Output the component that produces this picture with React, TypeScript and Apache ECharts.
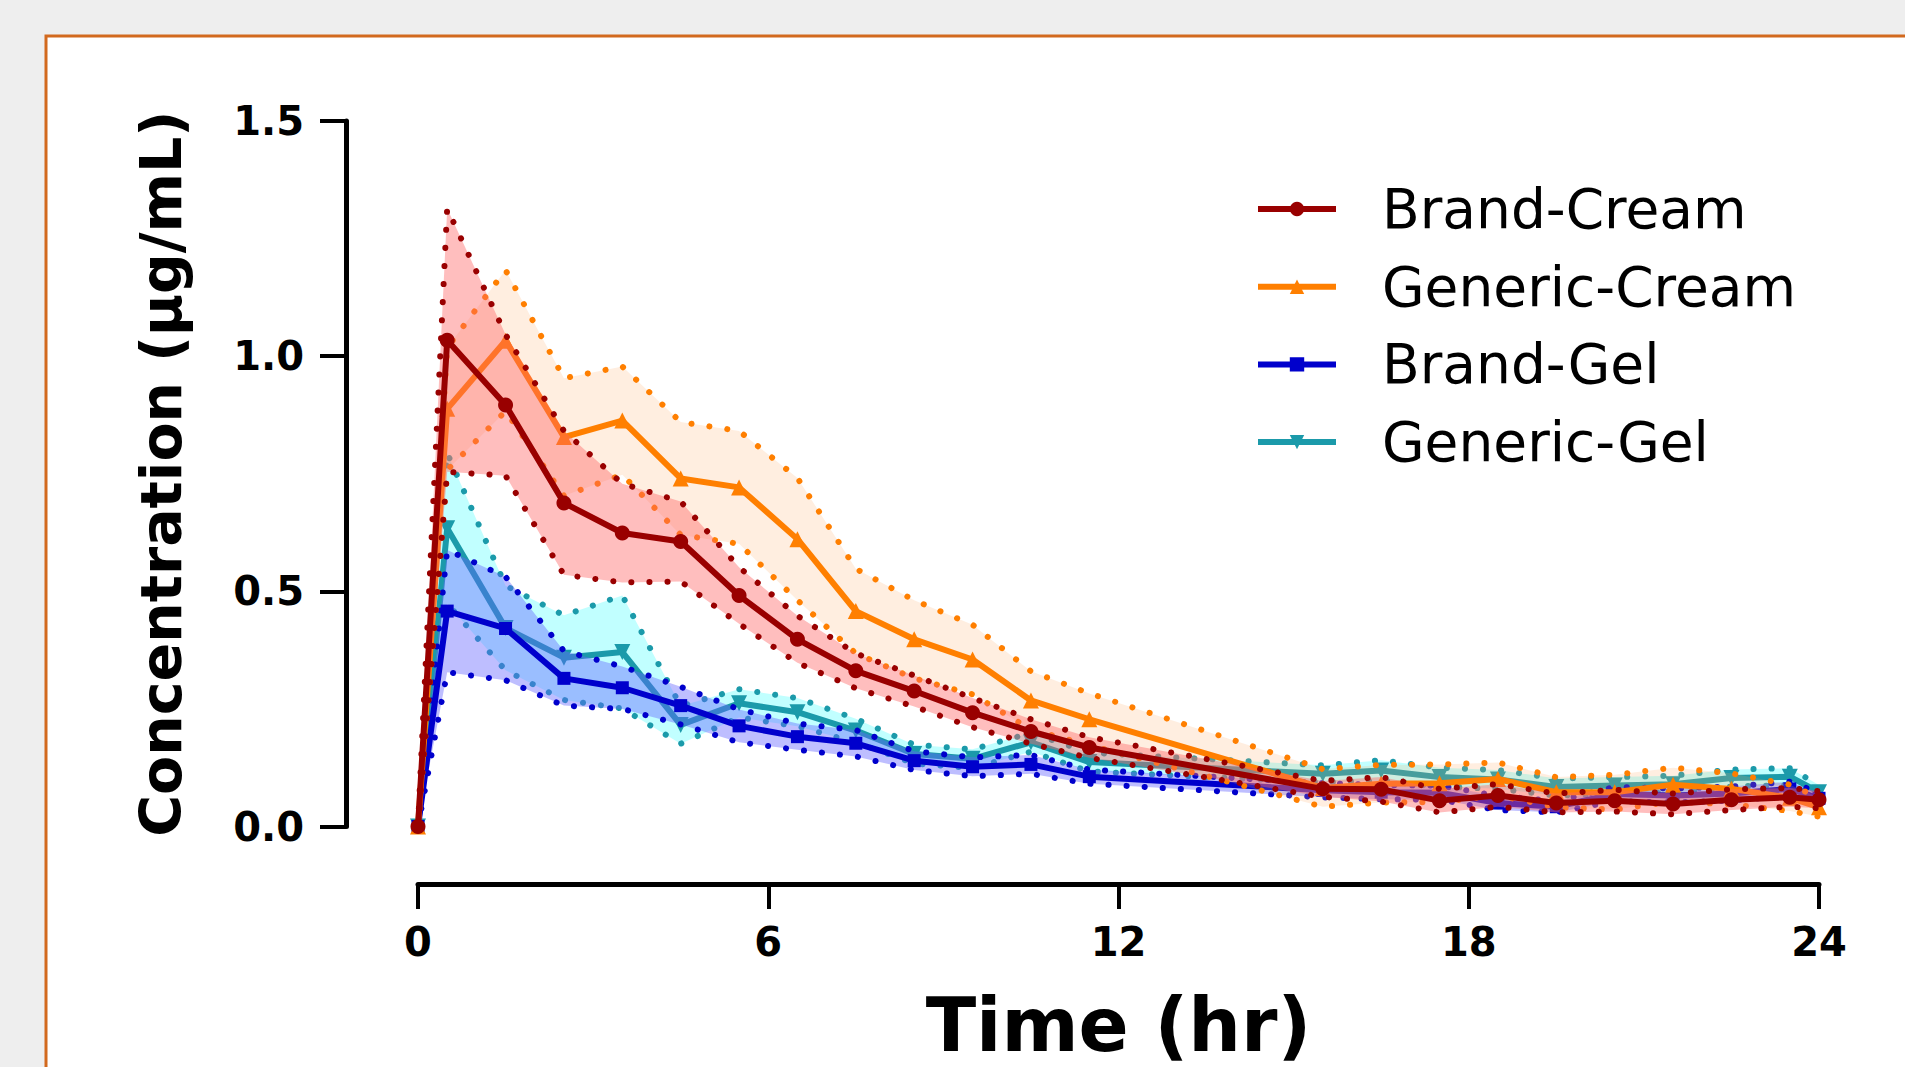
import React, { useEffect, useRef } from "react";
import * as echarts from "echarts";

// Sampling times (hr)
const times = [0, 0.5, 1.5, 2.5, 3.5, 4.5, 5.5, 6.5, 7.5, 8.5, 9.5, 10.5, 11.5, 15.5, 16.5, 17.5, 18.5, 19.5, 20.5, 21.5, 22.5, 23.5, 24];

// Mean concentrations (µg/mL) and SEM
const brandCreamMean = [0, 1.034, 0.896, 0.688, 0.624, 0.606, 0.491, 0.398, 0.331, 0.288, 0.242, 0.202, 0.168, 0.080, 0.079, 0.055, 0.066, 0.050, 0.055, 0.048, 0.057, 0.062, 0.057];
const brandCreamSem = [0, 0.28, 0.15, 0.153, 0.105, 0.085, 0.06, 0.05, 0.037, 0.033, 0.031, 0.026, 0.022, 0.017, 0.026, 0.025, 0.024, 0.02, 0.023, 0.022, 0.022, 0.02, 0.018];

const genericCreamMean = [0, 0.888, 1.033, 0.828, 0.863, 0.740, 0.721, 0.611, 0.458, 0.398, 0.355, 0.268, 0.228, 0.082, 0.091, 0.092, 0.101, 0.073, 0.073, 0.089, 0.080, 0.061, 0.041];
const genericCreamSem = [0, 0.13, 0.15, 0.125, 0.115, 0.12, 0.12, 0.13, 0.09, 0.083, 0.074, 0.062, 0.055, 0.04, 0.04, 0.04, 0.035, 0.032, 0.037, 0.036, 0.033, 0.028, 0.02];

const brandGelMean = [0, 0.458, 0.421, 0.315, 0.295, 0.257, 0.214, 0.191, 0.177, 0.140, 0.127, 0.132, 0.106, 0.077, 0.073, 0.072, 0.050, 0.042, 0.069, 0.066, 0.070, 0.080, 0.060];
const brandGelSem = [0, 0.13, 0.11, 0.058, 0.045, 0.04, 0.035, 0.028, 0.028, 0.02, 0.02, 0.02, 0.015, 0.015, 0.015, 0.015, 0.015, 0.012, 0.015, 0.015, 0.015, 0.015, 0.012];

const genericGelMean = [0, 0.634, 0.422, 0.359, 0.371, 0.216, 0.262, 0.243, 0.204, 0.154, 0.144, 0.179, 0.137, 0.112, 0.119, 0.105, 0.100, 0.084, 0.087, 0.090, 0.103, 0.106, 0.073];
const genericGelSem = [0, 0.16, 0.09, 0.09, 0.12, 0.04, 0.03, 0.03, 0.025, 0.02, 0.02, 0.02, 0.02, 0.018, 0.022, 0.02, 0.02, 0.018, 0.018, 0.018, 0.018, 0.018, 0.015];

const legendNames = ["Brand-Cream", "Generic-Cream", "Brand-Gel", "Generic-Gel"];

const FONT = "'DejaVu Sans', 'Liberation Sans', sans-serif";

type Group = {
  name: string;
  mean: number[];
  sem: number[];
  color: string;
  fill: string;
  symbol: string;
  rotate: number;
  size: number;
};

// drawing order: bottom to top
const groups: Group[] = [
  { name: "Generic-Gel", mean: genericGelMean, sem: genericGelSem, color: "#1b9aaa", fill: "rgba(100,255,255,0.4)", symbol: "triangle", rotate: 180, size: 16 },
  { name: "Brand-Gel", mean: brandGelMean, sem: brandGelSem, color: "#0000cc", fill: "rgba(100,100,255,0.42)", symbol: "rect", rotate: 0, size: 13 },
  { name: "Generic-Cream", mean: genericCreamMean, sem: genericCreamSem, color: "#ff7f00", fill: "rgba(255,170,100,0.2)", symbol: "triangle", rotate: 0, size: 16 },
  { name: "Brand-Cream", mean: brandCreamMean, sem: brandCreamSem, color: "#990000", fill: "rgba(255,100,100,0.42)", symbol: "circle", rotate: 0, size: 15 },
];

function buildSeries() {
  const out: any[] = [];
  groups.forEach((g, k) => {
    const base = k * 3;
    const upper = times.map((t, i) => [t, g.mean[i] + g.sem[i]]);
    const lower = times.map((t, i) => [t, Math.max(0, g.mean[i] - g.sem[i])]);
    out.push({
      type: "custom",
      name: g.name + " band",
      z: base + 1,
      silent: true,
      data: times.map((t, i) => [t, lower[i][1], upper[i][1]]),
      encode: { x: 0, y: [1, 2] },
      renderItem: (params: any, api: any) => {
        if (params.dataIndex !== 0) return null;
        const up = upper.map((p) => api.coord(p));
        const lo = lower.map((p) => api.coord(p)).reverse();
        return {
          type: "polygon",
          shape: { points: up.concat(lo) },
          style: { fill: g.fill },
          silent: true,
        };
      },
    });
    [upper, lower].forEach((d, j) => {
      out.push({
        type: "line",
        name: g.name + (j === 0 ? " upper" : " lower"),
        z: base + 2,
        silent: true,
        symbol: "none",
        showSymbol: false,
        clip: false,
        data: d,
        lineStyle: { color: g.color, width: 6, type: [0.1, 18], cap: "round" },
      });
    });
    out.push({
      type: "line",
      name: g.name,
      z: base + 3,
      clip: false,
      symbol: g.symbol,
      symbolSize: g.size,
      symbolRotate: g.rotate,
      showAllSymbol: true,
      data: times.map((t, i) => [t, g.mean[i]]),
      lineStyle: { color: g.color, width: 6 },
      itemStyle: { color: g.color },
    });
  });
  return out;
}

export default function App() {
  const ref = useRef<HTMLDivElement>(null);
  useEffect(() => {
    if (!ref.current) return;
    const chart = echarts.init(ref.current, undefined, { renderer: "svg" });
    chart.setOption({
      animation: false,
      backgroundColor: "#eeeeee",
      graphic: [
        {
          type: "rect",
          z: -1,
          silent: true,
          shape: { x: 46, y: 36, width: 2000, height: 1200 },
          style: { fill: "#ffffff", stroke: "#d2691e", lineWidth: 3 },
        },
      ],
      grid: { left: 418, right: 86, top: 121, bottom: 237.5, containLabel: false },
      legend: {
        data: legendNames,
        orient: "vertical",
        left: 1255,
        top: 179,
        padding: 0,
        itemWidth: 78,
        itemHeight: 18,
        itemGap: 17.7,
        selectedMode: false,
        lineStyle: { width: 6 },
        textStyle: { fontFamily: FONT, fontSize: 55, color: "#000", lineHeight: 60, padding: [0, 0, 0, 41] },
      },
      xAxis: {
        type: "value",
        min: 0,
        max: 24,
        interval: 6,
        offset: 57.5,
        name: "Time (hr)",
        nameLocation: "middle",
        nameGap: 104,
        nameTextStyle: { fontFamily: FONT, fontWeight: "bold", fontSize: 74, color: "#000" },
        axisLine: { show: true, onZero: false, lineStyle: { color: "#000", width: 5 } },
        axisTick: { show: true, length: 25, lineStyle: { color: "#000", width: 4 } },
        axisLabel: { margin: 38, fontFamily: FONT, fontWeight: "bold", fontSize: 40, color: "#000" },
        splitLine: { show: false },
      },
      yAxis: {
        type: "value",
        min: 0,
        max: 1.5,
        interval: 0.5,
        offset: 72,
        name: "Concentration (µg/mL)",
        nameLocation: "middle",
        nameGap: 157,
        nameTextStyle: { fontFamily: FONT, fontWeight: "bold", fontSize: 57, color: "#000" },
        axisLine: { show: true, onZero: false, lineStyle: { color: "#000", width: 5 } },
        axisTick: { show: true, length: 26, lineStyle: { color: "#000", width: 4 } },
        axisLabel: {
          margin: 42,
          fontFamily: FONT,
          fontWeight: "bold",
          fontSize: 40,
          color: "#000",
          formatter: (v: number) => v.toFixed(1),
        },
        splitLine: { show: false },
      },
      series: buildSeries(),
    });
    return () => chart.dispose();
  }, []);
  return (
    <div
      ref={ref}
      style={{ position: "fixed", left: 0, top: 0, width: "1905px", height: "1067px" }}
    />
  );
}
